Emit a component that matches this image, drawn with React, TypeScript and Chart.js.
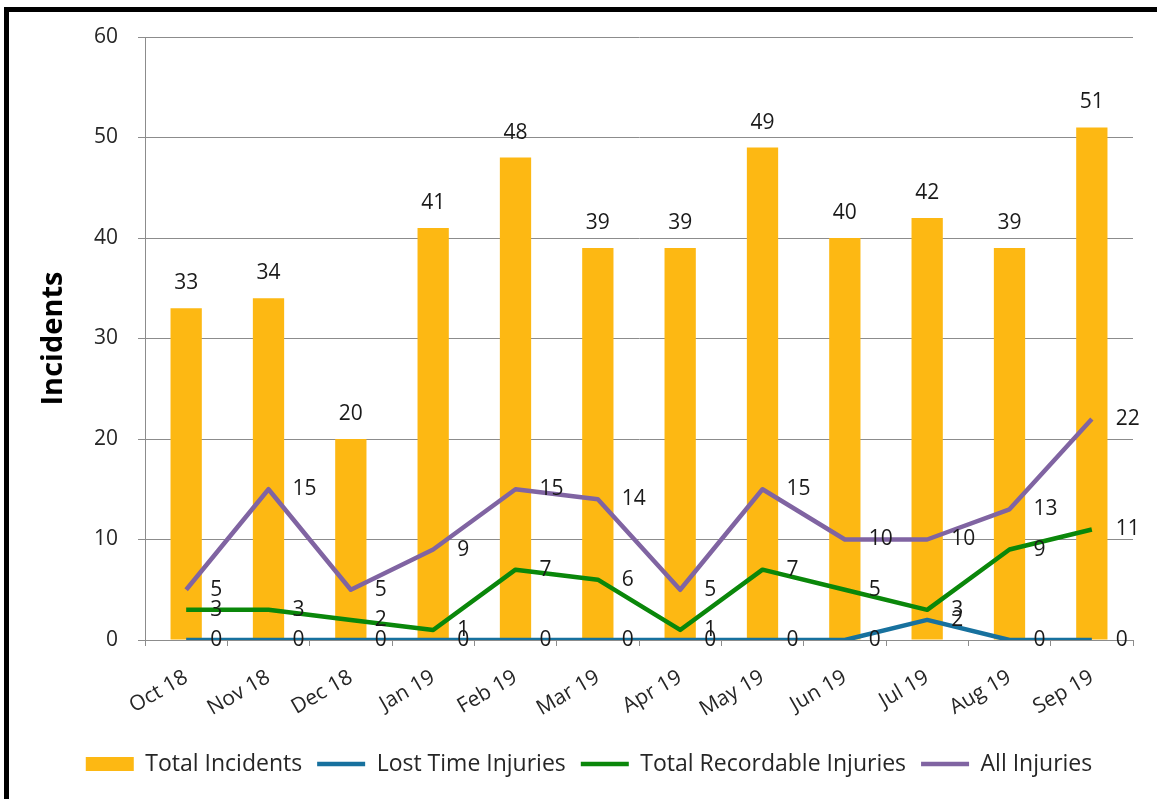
import React, { useEffect, useRef } from "react";
import { Chart, registerables } from "chart.js";

Chart.register(...registerables);

const months = ["Oct 18", "Nov 18", "Dec 18", "Jan 19", "Feb 19", "Mar 19", "Apr 19", "May 19", "Jun 19", "Jul 19", "Aug 19", "Sep 19"];
const totalIncidents = [33, 34, 20, 41, 48, 39, 39, 49, 40, 42, 39, 51];
const lostTimeInjuries = [0, 0, 0, 0, 0, 0, 0, 0, 0, 2, 0, 0];
const totalRecordableInjuries = [3, 3, 2, 1, 7, 6, 1, 7, 5, 3, 9, 11];
const allInjuries = [5, 15, 5, 9, 15, 14, 5, 15, 10, 10, 13, 22];
const yMin = 0;
const yMax = 60;
const yStep = 10;

const FONT = "'Open Sans', sans-serif";
const BAR_COLOR = "#FDB813";
const BLUE = "#17719E";
const GREEN = "#0A870A";
const PURPLE = "#8064A2";
const GRID = "#8C8C8C";
const TEXT = "#262626";

const dataLabelPlugin = {
  id: "dataLabels",
  afterDatasetsDraw(chart: any) {
    const ctx = chart.ctx;
    ctx.save();
    ctx.font = `21px ${FONT}`;
    ctx.fillStyle = "#1a1a1a";
    chart.data.datasets.forEach((ds: any, di: number) => {
      const meta = chart.getDatasetMeta(di);
      meta.data.forEach((el: any, i: number) => {
        const v = ds.data[i];
        if (ds.type === "bar") {
          ctx.textAlign = "center";
          ctx.textBaseline = "middle";
          ctx.fillText(String(v), el.x, el.y - 25);
        } else {
          ctx.textAlign = "left";
          ctx.textBaseline = "middle";
          ctx.fillText(String(v), el.x + 24, el.y);
        }
      });
    });
    ctx.restore();
  },
};

export default function App() {
  const canvasRef = useRef<HTMLCanvasElement | null>(null);

  useEffect(() => {
    if (!canvasRef.current) return;
    Chart.defaults.font.family = FONT;
    const lineDs = (label: string, data: number[], color: string, order: number) => ({
      type: "line",
      label,
      data,
      borderColor: color,
      backgroundColor: color,
      borderWidth: 4.5,
      pointRadius: 0,
      tension: 0,
      fill: false,
      borderJoinStyle: "round",
      order,
    });
    const chart = new Chart(canvasRef.current, {
      type: "bar",
      data: {
        labels: months,
        datasets: [
          {
            type: "bar",
            label: "Total Incidents",
            data: totalIncidents,
            backgroundColor: BAR_COLOR,
            borderWidth: 0,
            categoryPercentage: 1,
            barPercentage: 0.38,
            order: 10,
          },
          lineDs("Lost Time Injuries", lostTimeInjuries, BLUE, 3),
          lineDs("Total Recordable Injuries", totalRecordableInjuries, GREEN, 2),
          lineDs("All Injuries", allInjuries, PURPLE, 1),
        ] as any,
      },
      options: {
        animation: false,
        responsive: true,
        maintainAspectRatio: false,
        layout: { padding: { left: 45, right: 24, top: 37, bottom: 13.5 } },
        plugins: {
          tooltip: { enabled: false },
          legend: {
            position: "bottom",
            labels: {
              font: { size: 23, family: FONT },
              color: TEXT,
              usePointStyle: true,
              pointStyleWidth: 48,
              boxHeight: 14,
              padding: 15,
              generateLabels: (c: any) =>
                c.data.datasets.map((ds: any, i: number) => ({
                  text: ds.label,
                  datasetIndex: i,
                  fillStyle: ds.type === "bar" ? BAR_COLOR : ds.borderColor,
                  strokeStyle: ds.type === "bar" ? BAR_COLOR : ds.borderColor,
                  lineWidth: ds.type === "bar" ? 0 : 4.5,
                  pointStyle: ds.type === "bar" ? "rect" : "line",
                  hidden: false,
                  fontColor: TEXT,
                })),
            },
          },
        },
        scales: {
          x: {
            offset: true,
            grid: {
              display: true,
              offset: true,
              drawOnChartArea: false,
              drawTicks: true,
              tickLength: 6,
              color: GRID,
            },
            border: { display: true, color: GRID },
            ticks: {
              autoSkip: false,
              minRotation: 30,
              maxRotation: 30,
              padding: 19,
              color: TEXT,
              font: { size: 21, family: FONT },
            },
            afterFit: (scale: any) => {
              scale.height = 97.5;
            },
          },
          y: {
            min: yMin,
            max: yMax,
            grid: { color: GRID, tickLength: 7, drawTicks: true },
            border: { display: true, color: GRID },
            ticks: {
              stepSize: yStep,
              padding: 20,
              color: TEXT,
              font: { size: 21, family: FONT },
            },
            title: {
              display: true,
              text: "Incidents",
              color: "#000",
              font: { size: 29, weight: "bold", family: FONT },
              padding: { top: -8.5, bottom: 0 },
            },
            afterFit: (scale: any) => {
              scale.width = 100;
            },
          },
        },
      } as any,
      plugins: [dataLabelPlugin],
    });
    return () => chart.destroy();
  }, []);

  return (
    <div style={{ position: "fixed", left: 0, top: 0, width: 1157, height: 799, background: "#fff", overflow: "hidden" }}>
      <div
        style={{
          position: "absolute",
          left: 4,
          top: 7,
          width: 1250,
          height: 900,
          borderLeft: "5px solid #000",
          borderTop: "5px solid #000",
        }}
      />
      <div style={{ position: "absolute", left: 0, top: 0, width: 1157, height: 799 }}>
        <canvas ref={canvasRef} />
      </div>
    </div>
  );
}
